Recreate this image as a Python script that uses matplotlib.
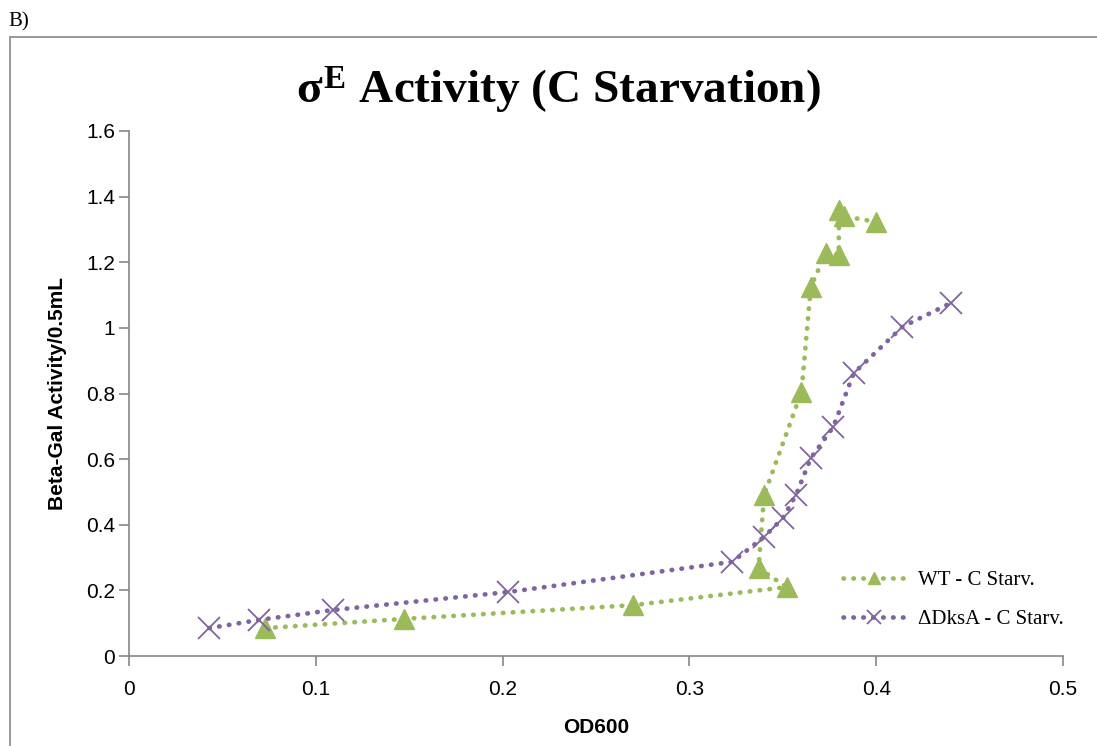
import matplotlib
matplotlib.use("Agg")
import matplotlib.pyplot as plt
from matplotlib.patches import Rectangle

# Data
wt_od = [0.073, 0.147, 0.270, 0.352, 0.337, 0.340, 0.360, 0.365, 0.373, 0.380, 0.380, 0.383, 0.400]
wt_act = [0.085, 0.113, 0.155, 0.210, 0.268, 0.490, 0.805, 1.125, 1.228, 1.222, 1.360, 1.340, 1.323]
dks_od = [0.043, 0.0696, 0.109, 0.203, 0.323, 0.340, 0.350, 0.357, 0.365, 0.377, 0.388, 0.414, 0.440]
dks_act = [0.085, 0.110, 0.140, 0.195, 0.287, 0.363, 0.420, 0.490, 0.603, 0.698, 0.862, 1.003, 1.076]
xticks = [0, 0.1, 0.2, 0.3, 0.4, 0.5]
xticklabels = ["0", "0.1", "0.2", "0.3", "0.4", "0.5"]
yticks = [0, 0.2, 0.4, 0.6, 0.8, 1.0, 1.2, 1.4, 1.6]
yticklabels = ["0", "0.2", "0.4", "0.6", "0.8", "1", "1.2", "1.4", "1.6"]

green = "#9BBB59"
purple = "#8064A2"

plt.rcParams["mathtext.fontset"] = "custom"
plt.rcParams["mathtext.rm"] = "Liberation Serif:bold"
plt.rcParams["mathtext.bf"] = "Liberation Serif:bold"
plt.rcParams["mathtext.it"] = "Liberation Serif:bold"

fig = plt.figure(figsize=(10.97, 7.46), dpi=100)
ax = fig.add_axes([129/1097, 1-656/746, (1063-129)/1097, (656-131)/746])

ls = (0, (0.1, 2.0))
l1, = ax.plot(wt_od, wt_act, color=green, lw=3.4, linestyle=ls, dash_capstyle="round",
              marker="^", markersize=14, markerfacecolor=green, markeredgecolor=green,
              label="WT - C Starv.")
l2, = ax.plot(dks_od, dks_act, color=purple, lw=3.4, linestyle=ls, dash_capstyle="round",
              marker="x", markersize=16, markeredgewidth=1.3, markeredgecolor=purple,
              label="\u0394DksA - C Starv.")

ax.set_xlim(0, 0.5)
ax.set_ylim(0, 1.6)
ax.set_xticks(xticks)
ax.set_xticklabels(xticklabels)
ax.set_yticks(yticks)
ax.set_yticklabels(yticklabels)
for s in ["top", "right"]:
    ax.spines[s].set_visible(False)
for s in ["left", "bottom"]:
    ax.spines[s].set_color("#868686")
    ax.spines[s].set_linewidth(1.2)
ax.tick_params(axis="both", direction="out", length=7, width=1.2, color="#868686",
               labelsize=15)
ax.tick_params(axis="x", pad=10)
ax.tick_params(axis="y", pad=3)
for lab in ax.get_xticklabels() + ax.get_yticklabels():
    lab.set_fontfamily("Liberation Sans")

ax.set_xlabel("OD600", fontsize=15, fontweight="bold", family="Liberation Sans", labelpad=14)
ax.set_ylabel("Beta-Gal Activity/0.5mL", fontsize=15, fontweight="bold", family="Liberation Sans", labelpad=14)

fig.text(0.509, 1-90/746, r"$\sigma^{E}$ Activity (C Starvation)",
         ha="center", va="center", fontsize=34, fontweight="bold", family="Liberation Serif")

leg = ax.legend(handles=[l1, l2], loc="center left", bbox_to_anchor=(0.7645, 0.107), frameon=False,
                numpoints=1, handlelength=3.0, handletextpad=0.6, borderpad=0, borderaxespad=0,
                prop={"family": "Liberation Serif", "size": 15},
                markerscale=0.65, labelspacing=0.95)

fig.patches.append(Rectangle((10/1097, -0.01), 1.1, 1-37/746 + 0.01, transform=fig.transFigure,
                             fill=False, edgecolor="#888888", lw=1.2))
fig.text(8/1097, 1-22/746, "B)", fontsize=15, family="Liberation Serif", va="center", ha="left")

fig.savefig("out.png", dpi=100)
